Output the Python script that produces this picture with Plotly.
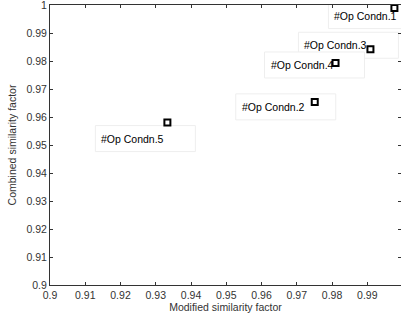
import plotly.graph_objects as go

# Data
labels = ["#Op Condn.1", "#Op Condn.2", "#Op Condn.3", "#Op Condn.4", "#Op Condn.5"]
modified_sf = [0.9977, 0.9751, 0.9909, 0.9810, 0.9333]
combined_sf = [0.9989, 0.9654, 0.9842, 0.9793, 0.9580]

# label box offsets (pixels) relative to each point (left edge, vertical centre; +y is up)
label_dx = [-66, -79, -72, -71, -72]
label_dy = [-7.5, -5, 4, -2, -16]

x_ticks = [0.9, 0.91, 0.92, 0.93, 0.94, 0.95, 0.96, 0.97, 0.98, 0.99, 1.0]
y_ticks = [0.9, 0.91, 0.92, 0.93, 0.94, 0.95, 0.96, 0.97, 0.98, 0.99, 1.0]

FONT = "Liberation Sans, Arial, sans-serif"
AX = "#333333"
BOX_W, BOX_H = 100, 26

fig = go.Figure()
fig.add_trace(go.Scatter(
    x=modified_sf, y=combined_sf, mode="markers",
    marker=dict(symbol="square-open", size=6, color="black",
                line=dict(width=2, color="black")),
    showlegend=False, cliponaxis=False,
))

for lab, x, y, dx, dy in zip(labels, modified_sf, combined_sf, label_dx, label_dy):
    fig.add_shape(
        type="rect", layer="below", xref="x", yref="y",
        xsizemode="pixel", ysizemode="pixel", xanchor=x, yanchor=y,
        x0=dx, x1=dx + BOX_W, y0=dy - BOX_H / 2, y1=dy + BOX_H / 2,
        line=dict(color="#eeeeee", width=1), fillcolor="white",
    )
    fig.add_annotation(
        x=x, y=y, xref="x", yref="y", text=lab, showarrow=False,
        xanchor="left", yanchor="middle", xshift=dx + 4, yshift=dy,
        font=dict(family=FONT, size=10.5, color="black"),
    )

axis_common = dict(
    showgrid=False, zeroline=False, showline=True, linecolor=AX, linewidth=1,
    mirror="ticks", ticks="inside", ticklen=3, tickcolor=AX,
    ticklabeloverflow="allow",
    tickfont=dict(family=FONT, size=10.5, color=AX),
)

fig.update_layout(
    width=401, height=321,
    margin=dict(l=50, r=0, t=5, b=36),
    paper_bgcolor="white", plot_bgcolor="white",
    xaxis=dict(range=[0.8999999, 0.99957], tickvals=x_ticks,
               ticktext=[f"{v:g}" for v in x_ticks],
               title=dict(text="Modified similarity factor", standoff=4,
                          font=dict(family=FONT, size=10.5, color=AX)),
               **axis_common),
    yaxis=dict(range=[0.8999999, 1.0000001], tickvals=y_ticks,
               ticktext=[f"{v:g}" for v in y_ticks],
               title=dict(text="Combined similarity factor", standoff=7,
                          font=dict(family=FONT, size=10.5, color=AX)),
               **axis_common),
)

fig.write_html("out.html")
